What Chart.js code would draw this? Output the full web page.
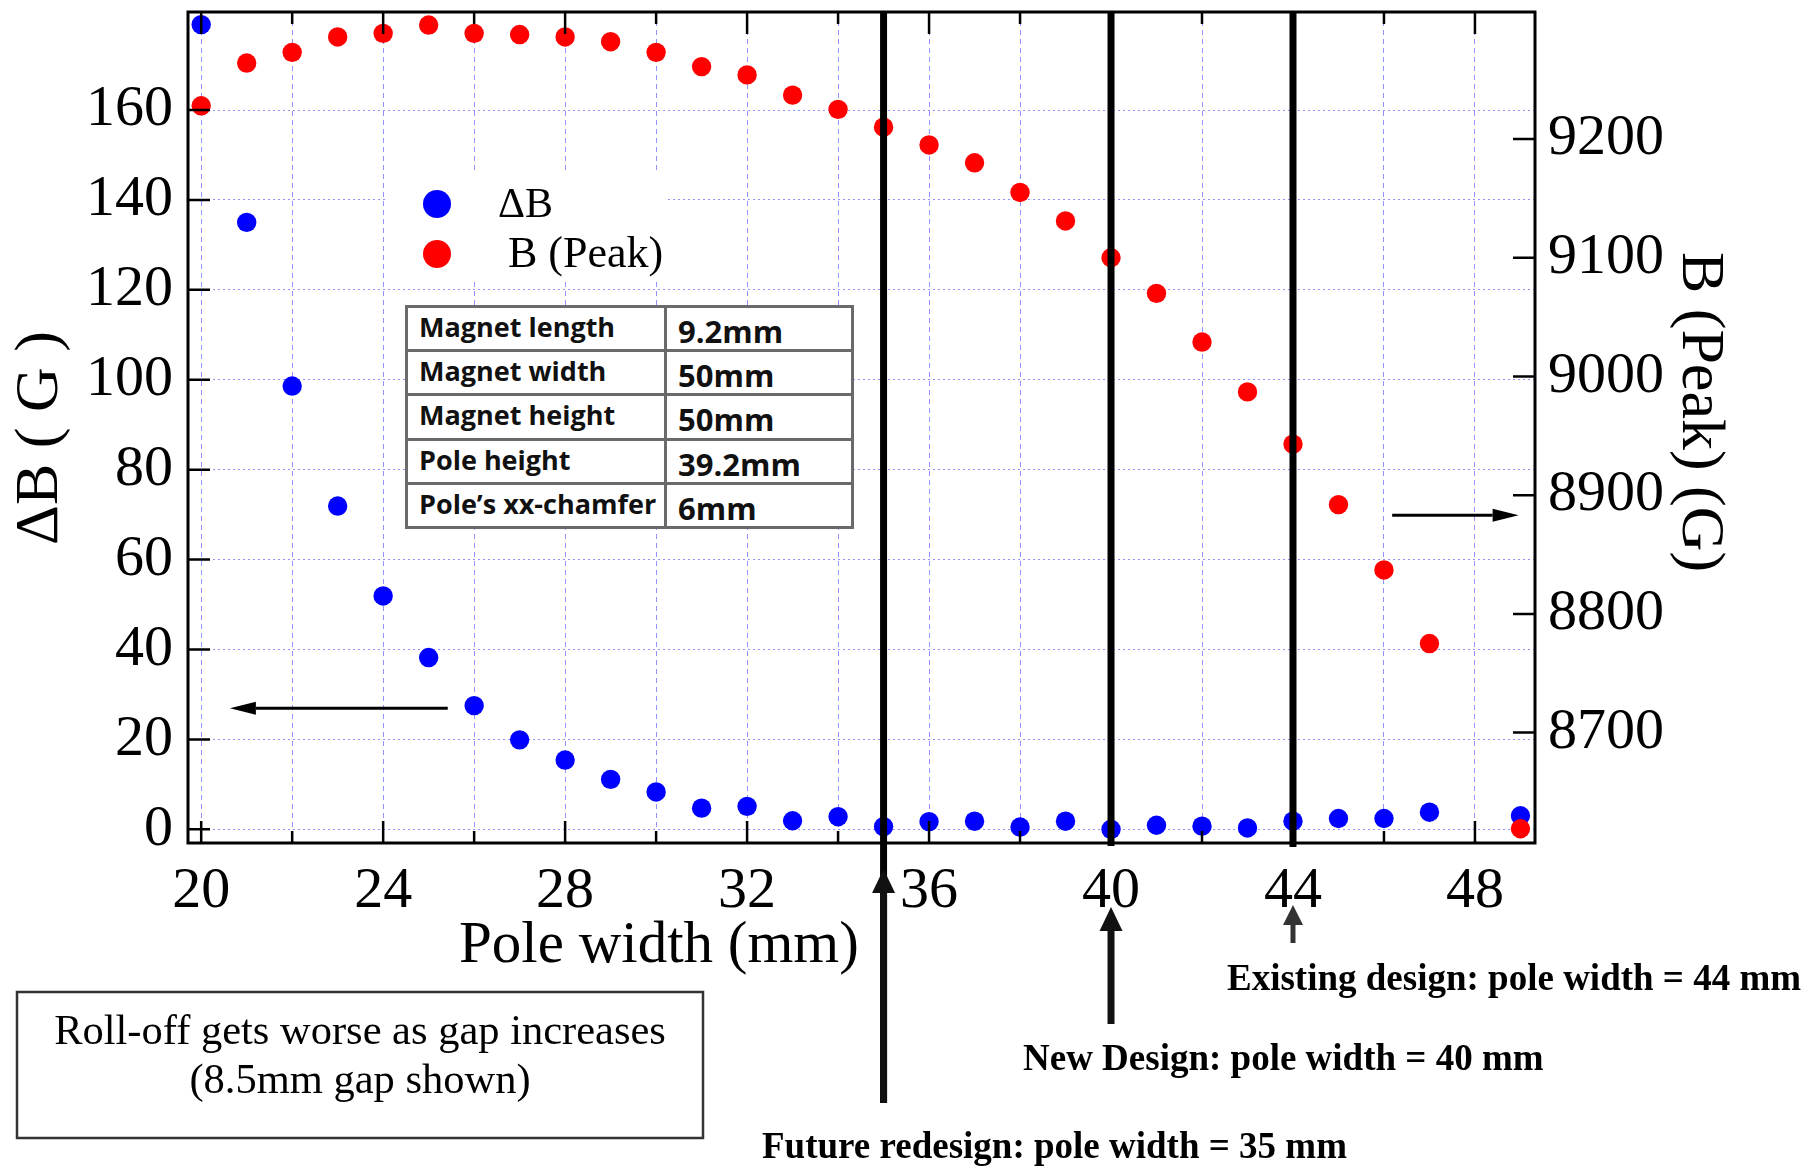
<!DOCTYPE html>
<html>
<head>
<meta charset="utf-8">
<script src="https://cdn.jsdelivr.net/npm/chart.js@4.4.1/dist/chart.umd.min.js"></script>
<style>
  html, body { margin: 0; padding: 0; background: #fff; }
  #wrap { position: relative; width: 1808px; height: 1166px; }
  #specs {
    position: absolute; left: 405px; top: 305px; width: 449px; height: 224px;
    border-collapse: collapse; background: #fff;
    font-family: "Open Sans", sans-serif; font-weight: 700; color: #111;
  }
  #specs td { border: 3px solid #6a6a6a; padding: 0 0 0 11px; height: 40px; line-height: 1; vertical-align: middle; }
  #specs td.k { width: 245px; font-size: 27px; }
  #specs td.k span { position: relative; top: -2px; }
  #specs td.v { font-size: 31px; }
  #specs td.v span { position: relative; top: 3px; }
</style>
</head>
<body>
<div id="wrap">
  <canvas id="poleChart"></canvas>
  <table id="specs"></table>
</div>
<script>
// pole width (mm); no point was simulated at 48 mm
const poleWidth = [20, 21, 22, 23, 24, 25, 26, 27, 28, 29, 30, 31, 32, 33, 34, 35,
                   36, 37, 38, 39, 40, 41, 42, 43, 44, 45, 46, 47, 49];
const deltaB = [179, 135, 98.6, 71.9, 51.9, 38.2, 27.5, 19.9, 15.4, 11.1, 8.3, 4.7, 5.1, 1.9, 2.8, 0.6,
                1.7, 1.8, 0.5, 1.8, 0.0, 0.9, 0.7, 0.3, 1.8, 2.4, 2.4, 3.8, 3.0];
const bPeak = [9228, 9264, 9273, 9286, 9289, 9296, 9289, 9288, 9286, 9282, 9273, 9261, 9254, 9237, 9225, 9210,
               9195, 9180, 9155, 9131, 9100, 9070, 9029, 8987, 8943, 8892, 8837, 8775, 8619];

const xTicks = [20, 22, 24, 26, 28, 30, 32, 34, 36, 38, 40, 42, 44, 46, 48];
const xLabels = [20, 24, 28, 32, 36, 40, 44, 48];
const leftTicks = [0, 20, 40, 60, 80, 100, 120, 140, 160];
const rightTicks = [8700, 8800, 8900, 9000, 9100, 9200];

const designWidths = [35, 40, 44];
const designNotes = ['Future redesign: pole width = 35 mm',
                     'New Design: pole width = 40 mm',
                     'Existing design: pole width = 44 mm'];

const specNames = ['Magnet length', 'Magnet width', 'Magnet height', 'Pole height', 'Pole\u2019s xx-chamfer'];
const specValues = ['9.2mm', '50mm', '50mm', '39.2mm', '6mm'];

const specs = document.getElementById('specs');
specNames.forEach((n, i) => {
  const tr = document.createElement('tr');
  tr.innerHTML = '<td class="k"><span>' + n + '</span></td><td class="v"><span>' + specValues[i] + '</span></td>';
  specs.appendChild(tr);
});

const SERIF = '"Liberation Serif", "Times New Roman", serif';
const gridBlue = 'rgba(110, 110, 255, 0.75)';

function arrow(ctx, x1, y1, x2, y2, w, headLen, headW, color) {
  const ang = Math.atan2(y2 - y1, x2 - x1);
  const bx = x2 - Math.cos(ang) * headLen, by = y2 - Math.sin(ang) * headLen;
  ctx.save();
  ctx.strokeStyle = color; ctx.fillStyle = color; ctx.lineWidth = w;
  ctx.beginPath(); ctx.moveTo(x1, y1); ctx.lineTo(bx, by); ctx.stroke();
  ctx.beginPath();
  ctx.moveTo(x2, y2);
  ctx.lineTo(bx - Math.sin(ang) * headW / 2, by + Math.cos(ang) * headW / 2);
  ctx.lineTo(bx + Math.sin(ang) * headW / 2, by - Math.cos(ang) * headW / 2);
  ctx.closePath(); ctx.fill();
  ctx.restore();
}

function text(ctx, str, x, y, font, align, rot) {
  ctx.save();
  ctx.translate(x, y);
  if (rot) ctx.rotate(rot);
  ctx.font = font; ctx.fillStyle = '#000';
  ctx.textAlign = align || 'left'; ctx.textBaseline = 'alphabetic';
  ctx.fillText(str, 0, 0);
  ctx.restore();
}

const decor = {
  id: 'decor',
  beforeDatasetsDraw(chart) {
    const ctx = chart.ctx;
    // legend, white box over the grid
    ctx.save();
    ctx.fillStyle = '#fff';
    ctx.fillRect(387, 173, 281, 105);
    const legendX = [498, 508];
    chart.data.datasets.forEach((ds, i) => {
      const cy = 204 + i * 50;
      ctx.beginPath();
      ctx.arc(437, cy, 14, 0, Math.PI * 2);
      ctx.fillStyle = ds.backgroundColor;
      ctx.fill();
      text(ctx, ds.label, legendX[i], cy + 13, (i ? 44 : 42) + 'px ' + SERIF);
    });
    ctx.restore();
  },
  afterDatasetsDraw(chart) {
    const ctx = chart.ctx;
    const a = chart.chartArea;
    const xs = chart.scales.x, ys = chart.scales.y, ys1 = chart.scales.y1;
    ctx.save();
    // inward tick marks
    ctx.strokeStyle = '#000'; ctx.lineWidth = 2.5;
    ctx.beginPath();
    xs.ticks.forEach(t => {
      const px = xs.getPixelForValue(t.value);
      const len = xLabels.includes(t.value) ? 22 : 12;
      ctx.moveTo(px, a.bottom); ctx.lineTo(px, a.bottom - len);
      ctx.moveTo(px, a.top); ctx.lineTo(px, a.top + len);
    });
    ys.ticks.forEach(t => {
      const py = ys.getPixelForValue(t.value);
      ctx.moveTo(a.left, py); ctx.lineTo(a.left + 22, py);
    });
    ys1.ticks.forEach(t => {
      const py = ys1.getPixelForValue(t.value);
      ctx.moveTo(a.right, py); ctx.lineTo(a.right - 22, py);
    });
    ctx.stroke();
    // frame
    ctx.lineWidth = 3;
    ctx.strokeRect(a.left, a.top, a.right - a.left, a.bottom - a.top);

    // design markers
    const lineEnd = [a.bottom + 260, a.bottom + 3, a.bottom + 4];
    const tips = [869, 907, 905];
    const tails = [1103, 1024, 943];
    designWidths.forEach((w, i) => {
      const px = xs.getPixelForValue(w);
      ctx.strokeStyle = '#000'; ctx.lineWidth = 7;
      ctx.beginPath(); ctx.moveTo(px, a.top); ctx.lineTo(px, lineEnd[i]); ctx.stroke();
      if (i === 2) arrow(ctx, px, tails[i], px, tips[i], 5, 20, 20, '#333');
      else arrow(ctx, px, tails[i], px, tips[i], 7, 24, 23, '#111');
    });

    // which axis each series belongs to
    const ly = ys.getPixelForValue(26.9);
    arrow(ctx, xs.getPixelForValue(25.42), ly, xs.getPixelForValue(20.63), ly, 3, 26, 13, '#000');
    const ry = ys1.getPixelForValue(8883);
    arrow(ctx, xs.getPixelForValue(46.18), ry, xs.getPixelForValue(48.96), ry, 3, 26, 13, '#000');
    ctx.restore();
  },
  afterDraw(chart) {
    const ctx = chart.ctx;
    // axis titles
    text(ctx, '\u0394B ( G )', 57, 438, '62px ' + SERIF, 'center', -Math.PI / 2);
    text(ctx, 'B (Peak) (G)', 1683, 412, '62px ' + SERIF, 'center', Math.PI / 2);
    text(ctx, 'Pole width (mm)', 459, 962, '59px ' + SERIF);

    // note box
    ctx.save();
    ctx.strokeStyle = '#333'; ctx.lineWidth = 2.5;
    ctx.strokeRect(17, 992, 686, 146);
    ctx.restore();
    text(ctx, 'Roll-off gets worse as gap increases', 360, 1044, '42.5px ' + SERIF, 'center');
    text(ctx, '(8.5mm gap shown)', 360, 1093, '42.5px ' + SERIF, 'center');

    // design annotations
    const noteX = [762, 1023, 1227];
    const noteY = [1158, 1070, 990];
    designNotes.forEach((n, i) => text(ctx, n, noteX[i], noteY[i], 'bold 37px ' + SERIF));
  }
};

new Chart(document.getElementById('poleChart'), {
  type: 'scatter',
  data: {
    datasets: [
      {
        label: '\u0394B',
        data: poleWidth.map((x, i) => ({ x: x, y: deltaB[i] })),
        yAxisID: 'y',
        backgroundColor: '#0000ff',
        borderWidth: 0,
        pointRadius: 9.7,
        order: 1
      },
      {
        label: 'B (Peak)',
        data: poleWidth.map((x, i) => ({ x: x, y: bPeak[i] })),
        yAxisID: 'y1',
        backgroundColor: '#ff0000',
        borderWidth: 0,
        pointRadius: 9.7,
        order: 0
      }
    ]
  },
  options: {
    responsive: true,
    maintainAspectRatio: false,
    animation: false,
    devicePixelRatio: 1,
    layout: { padding: { top: 12, left: 0, right: 0, bottom: 0 } },
    plugins: { legend: { display: false }, tooltip: { enabled: false } },
    scales: {
      x: {
        type: 'linear', min: 19.71, max: 49.32,
        afterBuildTicks: s => { s.ticks = xTicks.map(v => ({ value: v })); },
        afterFit: s => { s.height = 323; s.paddingLeft = 0; s.paddingRight = 0; },
        ticks: {
          autoSkip: false, maxRotation: 0, padding: 14, color: '#000',
          font: { family: SERIF, size: 58 },
          callback: v => xLabels.includes(v) ? String(v) : ''
        },
        grid: { color: gridBlue, lineWidth: 1, drawTicks: false },
        border: { display: false, dash: [5, 4] }
      },
      y: {
        position: 'left', min: -3.05, max: 181.8,
        afterBuildTicks: s => { s.ticks = leftTicks.map(v => ({ value: v })); },
        afterFit: s => { s.width = 188; s.paddingTop = 0; s.paddingBottom = 0; },
        ticks: { padding: 15, color: '#000', font: { family: SERIF, size: 58 }, callback: v => String(v) },
        grid: { color: gridBlue, lineWidth: 1, drawTicks: false },
        border: { display: false, dash: [2, 3] }
      },
      y1: {
        position: 'right', min: 8607, max: 9307,
        afterBuildTicks: s => { s.ticks = rightTicks.map(v => ({ value: v })); },
        afterFit: s => { s.width = 273; s.paddingTop = 0; s.paddingBottom = 0; },
        ticks: { padding: 13, color: '#000', font: { family: SERIF, size: 58 }, callback: v => String(v) },
        grid: { display: false, drawTicks: false },
        border: { display: false }
      }
    }
  },
  plugins: [decor]
});
</script>
</body>
</html>
